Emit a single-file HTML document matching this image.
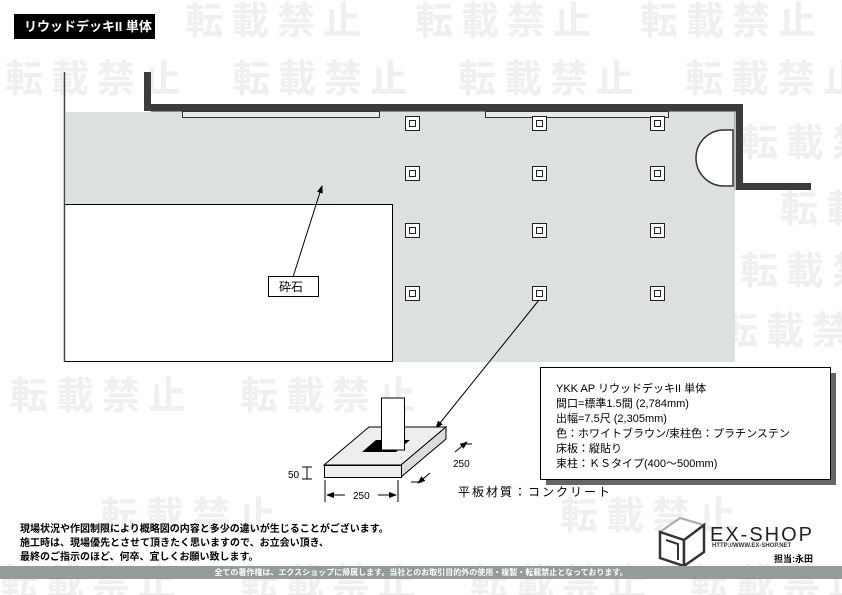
<!DOCTYPE html>
<html><head><meta charset="utf-8"><style>
html,body{margin:0;padding:0}
body{width:842px;height:595px;background:#fff;position:relative;overflow:hidden;font-family:"Liberation Sans","Noto Sans CJK JP",sans-serif}
#wmc{position:absolute;left:0;top:0;width:842px;height:595px;overflow:hidden}
.wm{position:absolute;font-size:38px;font-weight:bold;color:#efefef;letter-spacing:8px;white-space:nowrap;font-family:"Noto Sans CJK JP",sans-serif}
.a{position:absolute}
</style></head><body>
<div id="wmc">
<div class="wm" style="left:185px;top:-10px">転載禁止</div>
<div class="wm" style="left:415px;top:-10px">転載禁止</div>
<div class="wm" style="left:640px;top:-10px">転載禁止</div>
<div class="wm" style="left:5px;top:48px">転載禁止</div>
<div class="wm" style="left:232px;top:48px">転載禁止</div>
<div class="wm" style="left:458px;top:48px">転載禁止</div>
<div class="wm" style="left:685px;top:48px">転載禁止</div>
<div class="wm" style="left:740px;top:112px">転載禁止</div>
<div class="wm" style="left:780px;top:178px">転載禁止</div>
<div class="wm" style="left:740px;top:240px">転載禁止</div>
<div class="wm" style="left:720px;top:300px">転載禁止</div>
<div class="wm" style="left:10px;top:365px">転載禁止</div>
<div class="wm" style="left:240px;top:365px">転載禁止</div>
<div class="wm" style="left:100px;top:485px">転載禁止</div>
<div class="wm" style="left:560px;top:485px">転載禁止</div>
<div class="wm" style="left:0px;top:552px">転載禁止</div>
<div class="wm" style="left:240px;top:552px">転載禁止</div>
<div class="wm" style="left:470px;top:552px">転載禁止</div>
<div class="wm" style="left:690px;top:552px">転載禁止</div>
</div>

<svg class="a" style="left:0;top:0" width="842" height="595">
<defs><marker id="ar" markerWidth="8" markerHeight="8" refX="7" refY="4" orient="auto"><path d="M0,1 L8,4 L0,7 z" fill="#000"/></marker></defs>
<rect x="66" y="112" width="669" height="250" fill="#dde0e0"/>
<rect x="64.5" y="204.5" width="328" height="157" fill="#fff" stroke="#000"/>
<line x1="64.5" y1="72" x2="64.5" y2="362" stroke="#444" stroke-width="1.5"/>
<rect x="144" y="72" width="7" height="39" fill="#3c3c3c"/>
<rect x="144" y="104" width="599" height="7" fill="#3c3c3c"/>
<rect x="736" y="104" width="7" height="86" fill="#3c3c3c"/>
<rect x="736" y="183" width="75" height="7" fill="#3c3c3c"/>
<line x1="151" y1="111.5" x2="736" y2="111.5" stroke="#888"/>
<line x1="735" y1="111" x2="735" y2="190" stroke="#888"/>
<rect x="182.5" y="111.5" width="197" height="6" fill="#e8e8e8" stroke="#333"/>
<rect x="485.5" y="111.5" width="183" height="6" fill="#e8e8e8" stroke="#333"/>
<g fill="#fff" stroke="#222">
<rect x="405.5" y="116.5" width="14" height="14"/><rect x="409.5" y="120.5" width="6" height="6"/>
<rect x="532.5" y="116.5" width="14" height="14"/><rect x="536.5" y="120.5" width="6" height="6"/>
<rect x="650.5" y="116.5" width="14" height="14"/><rect x="654.5" y="120.5" width="6" height="6"/>
<rect x="405.5" y="166.5" width="14" height="14"/><rect x="409.5" y="170.5" width="6" height="6"/>
<rect x="532.5" y="166.5" width="14" height="14"/><rect x="536.5" y="170.5" width="6" height="6"/>
<rect x="650.5" y="166.5" width="14" height="14"/><rect x="654.5" y="170.5" width="6" height="6"/>
<rect x="405.5" y="223.5" width="14" height="14"/><rect x="409.5" y="227.5" width="6" height="6"/>
<rect x="532.5" y="223.5" width="14" height="14"/><rect x="536.5" y="227.5" width="6" height="6"/>
<rect x="650.5" y="223.5" width="14" height="14"/><rect x="654.5" y="227.5" width="6" height="6"/>
<rect x="405.5" y="286.5" width="14" height="14"/><rect x="409.5" y="290.5" width="6" height="6"/>
<rect x="532.5" y="286.5" width="14" height="14"/><rect x="536.5" y="290.5" width="6" height="6"/>
<rect x="650.5" y="286.5" width="14" height="14"/><rect x="654.5" y="290.5" width="6" height="6"/>
</g>
<path d="M733,130 L724,130 A28,28 0 0 0 724,186 L733,186 Z" fill="#fff" stroke="#333" stroke-width="1.5"/>
<line x1="293" y1="277" x2="322" y2="186" stroke="#000" marker-end="url(#ar)"/>
<rect x="268.5" y="276.5" width="50" height="20" fill="#fff" stroke="#000"/>
<text x="279" y="291" font-size="12" font-family="Liberation Sans,Noto Sans CJK JP,sans-serif">砕石</text>
<rect x="546" y="373" width="290" height="112" fill="#666"/>
<rect x="540.5" y="367.5" width="290" height="112" fill="#fff" stroke="#000"/>
<g font-size="11" font-family="Liberation Sans,Noto Sans CJK JP,sans-serif">
<text x="556" y="392">YKK AP リウッドデッキII 単体</text>
<text x="556" y="407">間口=標準1.5間 (2,784mm)</text>
<text x="556" y="422">出幅=7.5尺 (2,305mm)</text>
<text x="556" y="437">色：ホワイトブラウン/束柱色：プラチンステン</text>
<text x="556" y="452">床板：縦貼り</text>
<text x="556" y="467">束柱：ＫＳタイプ(400～500mm)</text>
</g>
<line x1="539" y1="300" x2="436" y2="428" stroke="#000" marker-end="url(#ar)"/>
<path d="M324,465 L369,427 L446,427 L401,465 Z" fill="#eee" stroke="#000"/>
<path d="M401,465 L446,427 L446,439 L401,477 Z" fill="#ddd" stroke="#000"/>
<rect x="324.5" y="465.5" width="77" height="12" fill="#eee" stroke="#000"/>
<path d="M362,452 L376,440 L410,440 L396,452 Z" fill="#000"/>
<rect x="381.5" y="398" width="23" height="52" fill="#fff" stroke="#000"/>
<line x1="325" y1="480" x2="325" y2="502" stroke="#000"/>
<line x1="398" y1="480" x2="398" y2="502" stroke="#000"/>
<line x1="345" y1="495" x2="327" y2="495" stroke="#000" marker-end="url(#ar)"/>
<line x1="378" y1="495" x2="396" y2="495" stroke="#000" marker-end="url(#ar)"/>
<text x="353" y="499" font-size="10" font-family="Liberation Sans,sans-serif">250</text>
<line x1="302" y1="467" x2="312" y2="467" stroke="#000"/><line x1="302" y1="479" x2="312" y2="479" stroke="#000"/><line x1="307" y1="467" x2="307" y2="479" stroke="#000"/>
<text x="288" y="478" font-size="10" font-family="Liberation Sans,sans-serif">50</text>
<line x1="460" y1="444" x2="472" y2="444" stroke="#000"/><line x1="411" y1="482" x2="422" y2="482" stroke="#000"/>
<line x1="455" y1="452" x2="467" y2="442" stroke="#000" marker-end="url(#ar)"/>
<line x1="430" y1="473" x2="418" y2="483" stroke="#000" marker-end="url(#ar)"/>
<text x="453" y="467" font-size="10" font-family="Liberation Sans,sans-serif">250</text>
<text x="458" y="496" font-size="12" letter-spacing="2" font-family="Liberation Sans,Noto Sans CJK JP,sans-serif">平板材質：コンクリート</text>
<path d="M660,532 L680,518 L704,525 L684,540 Z" fill="#fff" stroke="#aaa" stroke-width="2"/>
<path d="M660,532 L684,540 L684,566 L660,558 Z" fill="#fff" stroke="#333" stroke-width="2.5"/>
<path d="M684,540 L704,525 L704,552 L684,566 Z" fill="#fff" stroke="#333" stroke-width="2.5"/>
<path d="M666,540 L678,544 L678,560" fill="none" stroke="#333" stroke-width="2"/>
</svg>
<div class="a" style="left:14px;top:14px;width:141px;height:25px;background:#000;color:#fff;font-weight:bold;font-size:13px;line-height:25px;padding-left:10px;box-sizing:border-box">リウッドデッキII 単体</div>
<div class="a" style="left:710px;top:524px;font-size:20px;letter-spacing:2px;color:#222">EX-SHOP</div>
<div class="a" style="left:712px;top:543px;font-size:6px;font-weight:bold;color:#333">HTTP://WWW.EX-SHOP.NET</div>
<div class="a" style="left:774px;top:552px;font-size:9px;font-weight:bold">担当:永田</div>
<div class="a" style="left:20px;top:523px;font-size:10px;font-weight:bold;line-height:14px;white-space:nowrap">現場状況や作図制限により概略図の内容と多少の違いが生じることがございます。<br>施工時は、現場優先とさせて頂きたく思いますので、お立会い頂き、<br>最終のご指示のほど、何卒、宜しくお願い致します。</div>
<div class="a" style="left:0;top:566px;width:842px;height:13px;background:#959b9b;color:#fff;font-size:8px;font-weight:bold;line-height:13px;text-align:center;white-space:nowrap;overflow:hidden">全ての著作権は、エクスショップに帰属します。当社とのお取引目的外の使用・複製・転載禁止となっております。</div>
</body></html>
